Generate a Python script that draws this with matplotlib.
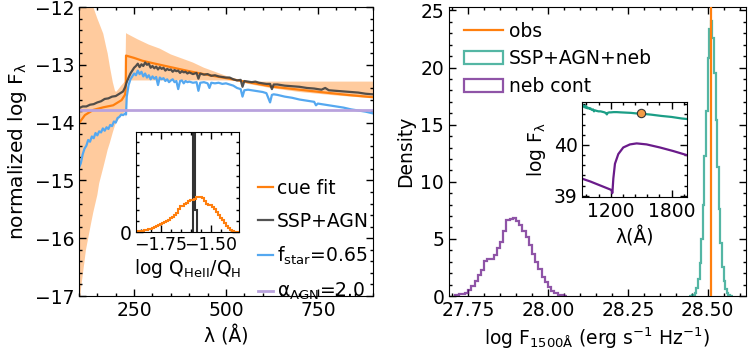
import numpy as np
import matplotlib
matplotlib.use("Agg")
import matplotlib.pyplot as plt
from matplotlib.ticker import AutoMinorLocator, MultipleLocator

plt.rcParams['font.size'] = 13.5
plt.rcParams['mathtext.default'] = 'regular'

# ---- left panel: spectra (wavelength in Angstrom, normalized log F_lambda)
wl_fit = [100, 116, 139, 166, 193, 216, 225, 227, 228, 250, 273, 300, 364, 400,
          455, 500, 560, 629, 700, 756, 830, 900]
f_fit = [-14.01, -13.87, -13.78, -13.735, -13.70, -13.61, -13.52, -13.45, -12.84,
         -12.88, -12.93, -12.97, -13.06, -13.11, -13.18, -13.23, -13.30, -13.38,
         -13.43, -13.47, -13.52, -13.56]

wl_band = [100, 105, 119, 133, 139, 150, 155, 166, 175, 178, 184, 192, 198, 201,
           205, 215, 226, 228, 230, 260, 290, 320, 350, 380, 410, 440, 470, 500,
           530, 560, 620, 700, 800, 900]
band_hi = [-10.9, -11.1, -11.6, -11.85, -12.0, -12.2, -12.28, -12.46, -12.72, -12.8,
           -13.03, -13.30, -13.45, -13.47, -13.44, -13.36, -13.28, -12.45, -12.46,
           -12.56, -12.65, -12.72, -12.82, -12.89, -12.96, -13.05, -13.12, -13.19,
           -13.26, -13.29, -13.29, -13.29, -13.29, -13.29]
band_lo = [-17.4, -16.9, -16.2, -15.74, -15.55, -15.25, -15.05, -14.78, -14.55, -14.47,
           -14.35, -14.17, -14.05, -14.01, -13.97, -13.88, -13.80, -13.93, -13.27,
           -13.27, -13.27, -13.27, -13.27, -13.27, -13.27, -13.27, -13.27, -13.27,
           -13.28, -13.33, -13.40, -13.47, -13.53, -13.58]

wl_ssp = [100, 110, 120, 130, 140, 150, 160, 170, 180, 190, 200, 210, 220, 226,
          230, 235, 240, 245, 250, 255, 260, 265, 270, 275, 280, 285, 290, 295,
          300, 305, 310, 315, 320, 325, 330, 335, 340, 345, 350, 355, 360, 365,
          370, 375, 380, 385, 390, 395, 400, 410, 420, 425, 430, 440, 450, 460,
          470, 480, 490, 500, 510, 520, 530, 540, 545, 550, 560, 570, 580, 590,
          600, 610, 620, 625, 630, 640, 660, 680, 700, 720, 740, 760, 770, 780,
          800, 820, 840, 860, 880, 900]
f_ssp = [-13.75, -13.72, -13.72, -13.69, -13.68, -13.65, -13.63, -13.59, -13.58,
         -13.55, -13.54, -13.50, -13.46, -13.38, -13.30, -13.22, -13.15, -13.10,
         -13.05, -13.02, -12.98, -13.04, -12.99, -13.02, -12.96, -13.00, -12.98,
         -13.05, -13.02, -13.06, -13.03, -13.08, -13.04, -13.07, -13.05, -13.10,
         -13.07, -13.09, -13.08, -13.12, -13.09, -13.11, -13.10, -13.14, -13.11,
         -13.13, -13.12, -13.15, -13.13, -13.16, -13.14, -13.24, -13.15, -13.17,
         -13.16, -13.19, -13.18, -13.20, -13.21, -13.22, -13.22, -13.25, -13.27,
         -13.26, -13.38, -13.28, -13.29, -13.30, -13.29, -13.31, -13.32, -13.33,
         -13.33, -13.42, -13.34, -13.34, -13.36, -13.37, -13.38, -13.40, -13.41,
         -13.43, -13.40, -13.44, -13.45, -13.46, -13.47, -13.48, -13.50, -13.51]

wl_star = [100, 105, 110, 115, 120, 125, 130, 135, 140, 145, 150, 155, 160, 165,
           170, 175, 180, 185, 190, 195, 200, 205, 210, 215, 220, 226, 228, 230,
           235, 240, 245, 250, 255, 260, 265, 270, 275, 280, 285, 290, 295, 300,
           305, 310, 315, 320, 325, 330, 335, 340, 345, 350, 355, 360, 365, 370,
           375, 380, 385, 390, 395, 400, 410, 420, 425, 430, 440, 450, 455, 460,
           470, 480, 490, 500, 510, 520, 530, 540, 545, 550, 560, 570, 580, 590,
           600, 610, 620, 625, 630, 640, 660, 680, 700, 720, 740, 745, 750, 760,
           780, 800, 820, 840, 860, 880, 900]
f_star = [-14.78, -14.70, -14.55, -14.45, -14.40, -14.30, -14.33, -14.24, -14.27,
          -14.18, -14.22, -14.15, -14.17, -14.10, -14.14, -14.08, -14.11, -14.04,
          -14.06, -13.98, -14.00, -13.92, -13.90, -13.86, -13.87, -13.84, -13.86,
          -13.55, -13.35, -13.25, -13.20, -13.15, -13.18, -13.10, -13.16, -13.12,
          -13.20, -13.15, -13.22, -13.18, -13.25, -13.20, -13.24, -13.21, -13.35,
          -13.22, -13.25, -13.23, -13.28, -13.25, -13.30, -13.27, -13.25, -13.30,
          -13.28, -13.42, -13.28, -13.27, -13.32, -13.28, -13.30, -13.29, -13.31,
          -13.30, -13.45, -13.31, -13.30, -13.32, -13.40, -13.31, -13.32, -13.31,
          -13.33, -13.32, -13.34, -13.36, -13.40, -13.42, -13.55, -13.44, -13.43,
          -13.44, -13.45, -13.46, -13.47, -13.49, -13.65, -13.52, -13.51, -13.52,
          -13.55, -13.57, -13.60, -13.62, -13.64, -13.70, -13.67, -13.68, -13.70,
          -13.72, -13.74, -13.77, -13.79, -13.81, -13.84]

agn_level = -13.78

# ---- left inset: log Q_HeII/Q_H posteriors
q_cue_range = (-1.875, -1.355)
q_cue = [0.05, 0.08, 0.12, 0.15, 0.18, 0.22, 0.28, 0.33, 0.40, 0.48, 0.58, 0.66,
         0.75, 0.85, 0.92, 1.02, 1.12, 1.25, 1.38, 1.55, 1.70, 2.05, 2.35, 2.30,
         2.55, 2.62, 2.75, 2.82, 2.90, 2.98, 3.10, 3.15, 3.12, 3.00, 2.80, 2.55,
         2.45, 2.40, 2.20, 2.05, 1.80, 1.55, 1.30, 1.05, 0.80, 0.55, 0.35, 0.20,
         0.10, 0.05, 0.03, 0.01]
q_ssp_edges = [-1.590, -1.580, -1.568]
q_ssp = [30.0, 2.0]

# ---- right panel: log F_1500 posteriors
neb_range = (27.71, 28.06)
neb_dens = [0.05, 0.15, 0.2, 0.3, 0.5, 0.9, 1.35, 1.8, 2.3, 3.1, 3.2, 3.25, 3.6,
            4.2, 4.7, 5.7, 6.7, 6.75, 6.85, 6.6, 6.2, 5.7, 5.2, 4.5, 3.7, 3.0,
            2.4, 1.7, 1.2, 0.8, 0.45, 0.25, 0.12, 0.05, 0.02]
tot_range = (28.44, 28.58)
tot_dens = [0.01, 0.02, 0.05, 0.12, 0.3, 0.7, 1.5, 2.9, 5.0, 8.0, 12.3, 16.2, 20.8,
            23.4, 24.1, 22.6, 19.5, 15.4, 11.3, 7.6, 4.6, 2.5, 1.3, 0.6, 0.25,
            0.1, 0.03, 0.01]
obs_f1500 = 28.512

# ---- right inset: spectra around 1500 A
wl_tot = [920, 930, 940, 948, 955, 962, 970, 980, 990, 1000, 1012, 1025, 1035,
          1045, 1060, 1080, 1100, 1120, 1140, 1155, 1162, 1170, 1185, 1200, 1230,
          1260, 1300, 1350, 1400, 1450, 1500, 1550, 1600, 1700, 1800, 1900, 1950]
f_tot = [40.79, 40.77, 40.74, 40.77, 40.73, 40.75, 40.72, 40.73, 40.71, 40.72,
         40.69, 40.70, 40.66, 40.68, 40.67, 40.66, 40.66, 40.65, 40.64, 40.62,
         40.60, 40.63, 40.64, 40.64, 40.645, 40.645, 40.64, 40.635, 40.63, 40.62,
         40.615, 40.605, 40.595, 40.57, 40.55, 40.52, 40.51]
wl_neb = [920, 1000, 1100, 1200, 1212, 1215, 1218, 1226, 1242, 1275, 1324, 1390,
          1456, 1554, 1685, 1816, 1950]
f_neb = [39.335, 39.28, 39.20, 39.12, 39.10, 39.05, 39.10, 39.34, 39.63, 39.82,
         39.95, 40.01, 40.03, 40.01, 39.95, 39.88, 39.80]
obs_wl = 1500
obs_f = 40.62

ORANGE = '#ff7f0e'
TEAL = '#1b9e86'
PURPLE = '#6a1b8a'


def style_ticks(ax, xmaj, ymaj, xdiv=5, ydiv=5):
    ax.xaxis.set_major_locator(MultipleLocator(xmaj))
    ax.yaxis.set_major_locator(MultipleLocator(ymaj))
    ax.xaxis.set_minor_locator(AutoMinorLocator(xdiv))
    ax.yaxis.set_minor_locator(AutoMinorLocator(ydiv))
    ax.tick_params(which='both', direction='in', top=True, right=True, width=1)
    ax.tick_params(which='major', length=5)
    ax.tick_params(which='minor', length=2.5)


def step_hist(ax, dens, lo_hi, **kw):
    # histogram from per-bin densities, drawn as an outline
    edges = np.linspace(lo_hi[0], lo_hi[1], len(dens) + 1)
    centers = 0.5 * (edges[:-1] + edges[1:])
    return ax.hist(centers, bins=edges, weights=dens, histtype='step', **kw)


fig = plt.figure(figsize=(7.48, 3.52), dpi=100)

# left panel
ax1 = fig.add_axes([0.1056, 0.159, 0.393, 0.821])
ax1.fill_between(wl_band, band_lo, band_hi, color=ORANGE, alpha=0.4, lw=0)
ax1.plot(wl_fit, f_fit, color=ORANGE, lw=1.6, label='cue fit')
ax1.plot(wl_ssp, f_ssp, color='0.25', lw=1.6, alpha=0.9, label='SSP+AGN')
ax1.plot(wl_star, f_star, color='#55a8f0', lw=1.6, label='f$_{star}$=0.65')
ax1.axhline(agn_level, color='#b9a2dd', lw=2, label='α$_{AGN}$=2.0')
ax1.set_xlim(100, 900)
ax1.set_ylim(-17, -12)
style_ticks(ax1, 250, 1)
ax1.set_xlabel('λ (Å)')
ax1.set_ylabel('normalized log F$_λ$', fontsize=14.5)
ax1.legend(loc='lower right', bbox_to_anchor=(1.0, -0.035), frameon=False,
           handlelength=0.8, handletextpad=0.2, borderaxespad=0.1, borderpad=0.1,
           labelspacing=0.75)

# left inset
ins1 = fig.add_axes([0.1818, 0.340, 0.1377, 0.284])
step_hist(ins1, q_cue, q_cue_range, color=ORANGE, lw=1.5)
ins1.stairs(q_ssp, q_ssp_edges, color='0.2', lw=1.5)
ins1.set_xlim(-1.875, -1.36)
ins1.set_ylim(0, 8.85)
style_ticks(ins1, 0.25, 10)
ins1.yaxis.set_minor_locator(MultipleLocator(1))
ins1.tick_params(axis='x', labelsize=12.5, pad=3)
ins1.set_xlabel('log Q$_{HeII}$/Q$_H$', labelpad=2)

# right panel
ax2 = fig.add_axes([0.6003, 0.159, 0.397, 0.821])
ax2.axvline(obs_f1500, color=ORANGE, lw=1.6, zorder=3, label='obs')
step_hist(ax2, tot_dens, tot_range, color=TEAL, alpha=0.75, lw=1.6,
          label='SSP+AGN+neb')
step_hist(ax2, neb_dens, neb_range, color=PURPLE, alpha=0.75, lw=1.6,
          label='neb cont')
ax2.set_xlim(27.69, 28.62)
ax2.set_ylim(0, 25.3)
style_ticks(ax2, 0.25, 5)
ax2.set_xlabel('log F$_{1500Å}$ (erg s$^{-1}$ Hz$^{-1}$)')
ax2.set_ylabel('Density')
ax2.legend(loc='upper left', frameon=False, handlelength=2.1, handletextpad=0.3,
           borderaxespad=0.6, borderpad=0.2, labelspacing=0.45)

# right inset
ins2 = fig.add_axes([0.7785, 0.4395, 0.1396, 0.2716])
ins2.plot(wl_tot, f_tot, color=TEAL, lw=1.6)
ins2.plot(wl_neb, f_neb, color=PURPLE, lw=1.6)
ins2.plot([obs_wl], [obs_f], 'o', color='#f39c46', mec='0.2', mew=0.8, ms=6)
ins2.set_xlim(920, 1950)
ins2.set_ylim(38.97, 40.85)
style_ticks(ins2, 600, 1)
ins2.set_xlabel('λ(Å)')
ins2.set_ylabel('log F$_λ$')

fig.savefig('out.png', dpi=100)
